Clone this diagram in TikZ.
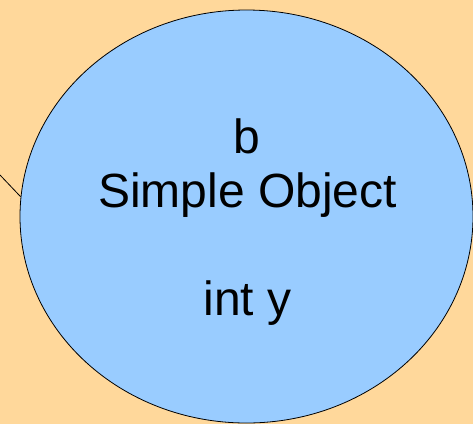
\documentclass[tikz,border=0pt]{standalone}
\usepackage{fontspec}
\setmainfont{Liberation Sans}
\usetikzlibrary{shapes.geometric}
\definecolor{bgorange}{RGB}{255,216,155}
\definecolor{objblue}{RGB}{153,204,255}
\tikzset{
  objshape/.style={ellipse, draw=black, line width=0.8pt, fill=objblue, inner sep=0pt, minimum width=453pt, minimum height=413pt},
  objtext/.style={anchor=base, inner sep=0pt, font=\fontsize{48}{54}\selectfont},
  link/.style={draw=black, line width=0.8pt}
}
\begin{document}
\begin{tikzpicture}[x=1pt,y=-1pt]
\fill[bgorange] (0,0) rectangle (473,424);
\useasboundingbox (0,0) rectangle (473,424);
\coordinate (ls) at (0,175);
\node[objshape] (obj) at (246.5,216.5) {};
\draw[link] (ls) -- (obj.175.5);
\node[objtext] (tb) at (246.5,153) {b};
\node[objtext] (tname) at (247.5,207) {Simple Object};
\node[objtext] (tvar) at (247.5,315) {int y};
\end{tikzpicture}
\end{document}
